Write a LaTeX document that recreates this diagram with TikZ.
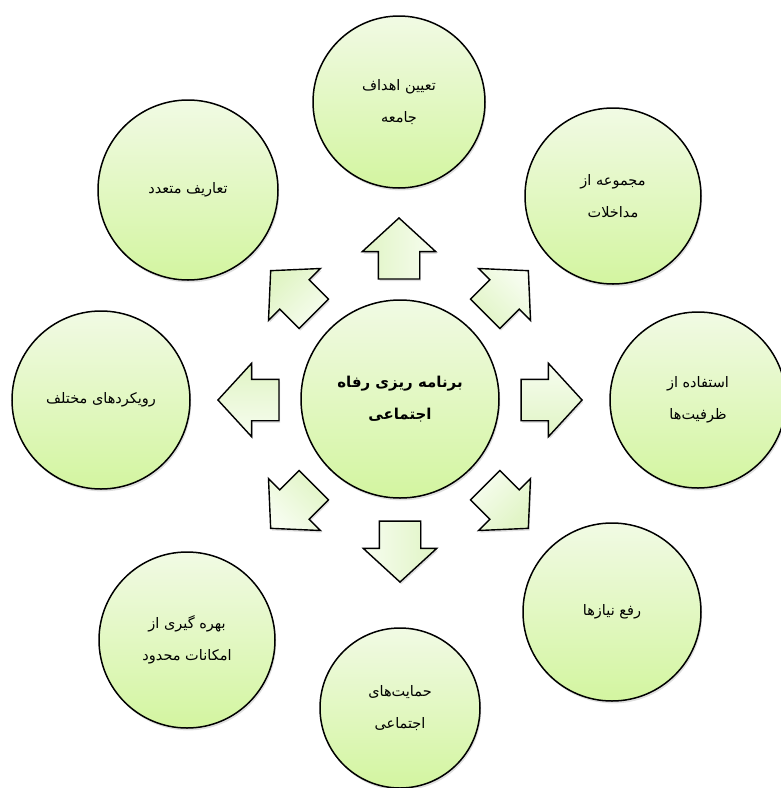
\documentclass[tikz,border=0pt]{standalone}
\usepackage{fontspec}
\newfontfamily\fa[Script=Arabic]{DejaVu Sans}
\TeXXeTstate=1
\usetikzlibrary{shapes.arrows,shadows}
\definecolor{ctop}{HTML}{F1FAE4}
\definecolor{cbot}{HTML}{D3F5A0}
\definecolor{atop}{HTML}{F7FDF0}
\definecolor{abot}{HTML}{E0F4C4}
\newcommand\faR[1]{\beginR #1\endR}
\begin{document}
\begin{tikzpicture}[x=1pt,y=-1pt,
  bub/.style={circle, draw=black, line width=1.5pt, inner sep=0pt,
    minimum size=#1, top color=ctop, bottom color=cbot,
    drop shadow={opacity=0.25, shadow xshift=1.2pt, shadow yshift=-2.4pt},
    align=center, font=\fa\fontsize{14.5}{32}\selectfont},
  barr/.style={single arrow, draw=black, line width=1.4pt, inner sep=0pt,
    inner ysep=20pt, single arrow head extend=16pt,
    single arrow tip angle=95, minimum height=61pt, minimum width=72pt,
    anchor=tip, rotate=#1, top color=atop, bottom color=abot,
    shading angle=-#1,
    drop shadow={opacity=0.25, shadow xshift=1.2pt, shadow yshift=-2.2pt}}
]
\useasboundingbox (0,0) rectangle (781,788);
% outer circles
\node[bub=172pt] (t)  at (399,102) {\faR{تعیین اهداف}\\\faR{جامعه}};
\node[bub=180pt] (tl) at (188,190) {\faR{تعاریف متعدد}};
\node[bub=176pt] (tr) at (613,196) {\faR{مجموعه از}\\\faR{مداخلات}};
\node[bub=178pt] (l)  at (101,400) {\faR{رویکردهای مختلف}};
\node[bub=176pt] (r)  at (698,400) {\faR{استفاده از}\\\faR{ظرفیت‌ها}};
\node[bub=176pt] (bl) at (187,640) {\faR{بهره گیری از}\\\faR{امکانات محدود}};
\node[bub=178pt] (br) at (612,612) {\faR{رفع نیازها}};
\node[bub=160pt] (b)  at (400,708) {\faR{حمایت‌های}\\\faR{اجتماعی}};
% centre
\node[bub=198pt, font=\fa\bfseries\fontsize{15}{32}\selectfont] (c) at (400,399)
  {\faR{برنامه ریزی رفاه}\\\faR{اجتماعی}};
% block arrows
\node[barr=90]  (aT)  at (399,217) {};
\node[barr=270] (aB)  at (400,583) {};
\node[barr=180] (aL)  at (217,400) {};
\node[barr=0]   (aR)  at (583,400) {};
\node[barr=135] (aTL) at (270,270) {};
\node[barr=45]  (aTR) at (529,270) {};
\node[barr=225] (aBL) at (270,529) {};
\node[barr=315] (aBR) at (529,529) {};
\end{tikzpicture}
\end{document}
